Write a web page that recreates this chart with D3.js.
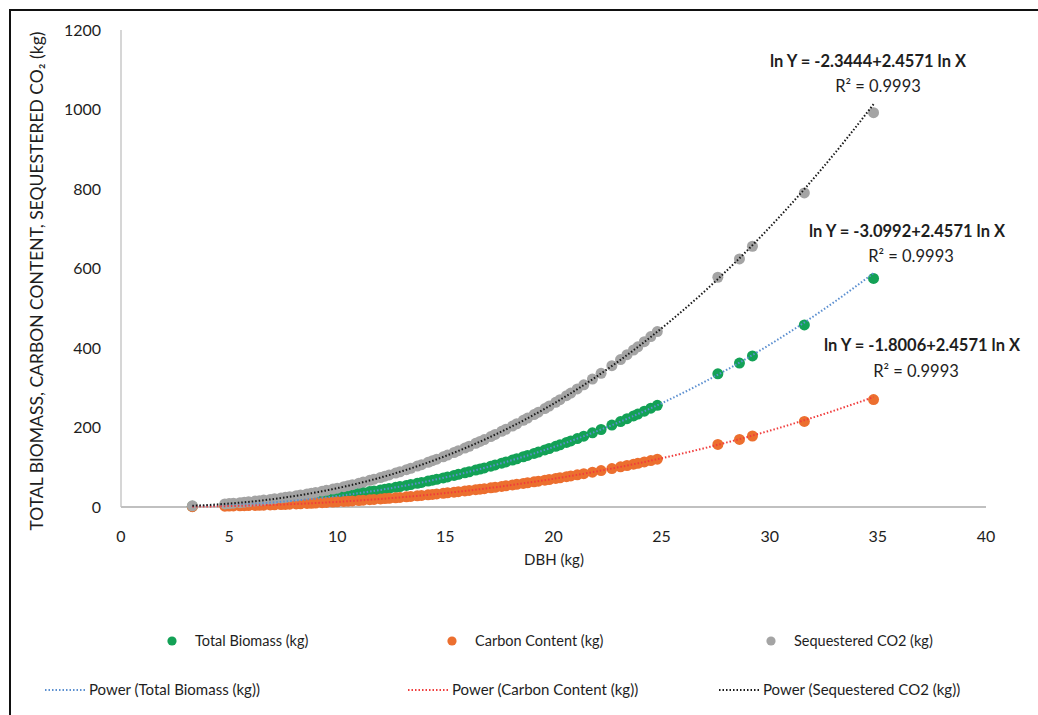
<!DOCTYPE html>
<html>
<head>
<meta charset="utf-8">
<script src="https://cdn.jsdelivr.net/npm/d3@7"></script>
<style>
  body { margin: 0; background: #fff; }
  text { font-family: Lato, "Open Sans", sans-serif; fill: #1e1e1e; }
</style>
</head>
<body>
<div id="chart"></div>
<script>
// data
var dbh = [3.3,
  4.8, 5.0, 5.2, 5.5, 5.7, 5.9, 6.2, 6.4, 6.6, 6.9, 7.1, 7.4, 7.6, 7.8, 8.1, 8.3, 8.6, 8.8, 9.0,
  9.3, 9.5, 9.8, 10.0, 10.3, 10.5, 10.7, 11.0, 11.2, 11.5, 11.7, 12.0, 12.2, 12.4, 12.7, 12.9,
  13.2, 13.4, 13.7, 13.9, 14.2, 14.4, 14.6, 14.9, 15.1, 15.4, 15.6, 15.9, 16.1, 16.4, 16.6, 16.8,
  17.1, 17.3, 17.6, 17.8, 18.1, 18.3, 18.6, 18.8, 19.1, 19.3, 19.6, 19.8, 20.1, 20.3, 20.6, 20.8,
  21.1, 21.4, 21.8, 22.2, 22.7, 23.1, 23.4, 23.7, 23.9, 24.2, 24.5, 24.8,
  27.6, 28.6, 29.2, 31.6, 34.8];
var totalBiomass = [1.8,
  4.5, 5.0, 5.6, 6.4, 7.0, 7.5, 8.6, 9.3, 10.0, 11.1, 11.9, 13.2, 14.1, 15.0, 16.4, 17.5, 19.0, 20.1, 21.2,
  23.1, 24.3, 26.2, 27.5, 29.6, 31.1, 32.5, 34.7, 36.4, 38.9, 40.5, 43.0, 44.9, 46.7, 49.5, 51.4,
  54.4, 56.5, 59.7, 61.8, 65.1, 67.5, 69.8, 73.2, 75.7, 79.5, 82.1, 85.9, 88.6, 92.8, 95.6, 98.4,
  102.7, 105.8, 110.3, 113.4, 118.0, 121.4, 126.4, 129.6, 134.7, 138.3, 143.6, 147.2, 152.7, 156.5, 162.3, 166.2,
  172.1, 178.2, 186.5, 195.0, 206.0, 215.0, 222.1, 229.0, 233.7, 241.1, 248.6, 255.9,
  335, 362, 380, 458, 575];
var carbonContent = [0.8,
  2.1, 2.4, 2.6, 3.0, 3.3, 3.5, 4.0, 4.4, 4.7, 5.2, 5.6, 6.2, 6.6, 7.1, 7.7, 8.2, 8.9, 9.4, 10.0,
  10.9, 11.4, 12.3, 12.9, 13.9, 14.6, 15.3, 16.3, 17.1, 18.3, 19.0, 20.2, 21.1, 21.9, 23.3, 24.2,
  25.6, 26.6, 28.1, 29.0, 30.6, 31.7, 32.8, 34.4, 35.6, 37.4, 38.6, 40.4, 41.6, 43.6, 44.9, 46.2,
  48.3, 49.7, 51.8, 53.3, 55.5, 57.1, 59.4, 60.9, 63.3, 65.0, 67.5, 69.2, 71.8, 73.6, 76.3, 78.1,
  80.9, 83.8, 87.7, 91.7, 96.8, 101.1, 104.4, 107.6, 109.8, 113.3, 116.8, 120.3,
  157.5, 170.1, 178.6, 215.3, 270.3];
var sequesteredCO2 = [3.1,
  7.8, 8.6, 9.7, 11.0, 12.1, 12.9, 14.8, 16.0, 17.3, 19.1, 20.5, 22.8, 24.3, 25.9, 28.3, 30.2, 32.8, 34.7, 36.6,
  39.8, 41.9, 45.2, 47.4, 51.1, 53.6, 56.1, 59.9, 62.8, 67.1, 69.9, 74.2, 77.5, 80.6, 85.4, 88.7,
  93.8, 97.5, 103.0, 106.6, 112.3, 116.4, 120.4, 126.3, 130.6, 137.1, 141.6, 148.2, 152.8, 160.1, 164.9, 169.7,
  177.2, 182.5, 190.3, 195.6, 203.6, 209.4, 218.0, 223.6, 232.4, 238.6, 247.7, 253.9, 263.4, 270.0, 280.0, 286.7,
  296.9, 307.4, 321.7, 336.4, 355.4, 370.9, 383.1, 395.0, 403.1, 415.9, 428.8, 441.4,
  578, 624, 656, 790, 992];

var seriesNames = ["Total Biomass (kg)", "Carbon Content (kg)", "Sequestered CO2 (kg)"];
var seriesColors = ["#13a156", "#ec6f2f", "#a4a4a4"];
var trendColors = ["#5b8fd0", "#f03c3c", "#1a1a1a"];
// power trendlines: ln Y = a + b ln X
var trendA = [-2.3444, -3.0992, -1.8006];
var trendB = [2.4571, 2.4571, 2.4571];
var eqLabels = ["ln Y = -2.3444+2.4571 ln X", "ln Y = -3.0992+2.4571 ln X", "ln Y = -1.8006+2.4571 ln X"];
var r2Labels = ["R\u00b2 = 0.9993", "R\u00b2 = 0.9993", "R\u00b2 = 0.9993"];
var xTicks = [0, 5, 10, 15, 20, 25, 30, 35, 40];
var yTicks = [0, 200, 400, 600, 800, 1000, 1200];

var width = 1038, height = 715;
var svg = d3.select("#chart").append("svg")
    .attr("width", width)
    .attr("height", height);

// outer frame
svg.append("rect")
    .attr("x", 10).attr("y", 10)
    .attr("width", 1050).attr("height", 730)
    .style("fill", "none").style("stroke", "#111").style("stroke-width", 2);

var x = d3.scaleLinear().domain([0, 40]).range([121, 986]);
var y = d3.scaleLinear().domain([0, 1200]).range([507, 30]);

// axes
svg.append("line")
    .attr("x1", x(0)).attr("x2", x(0)).attr("y1", y(0)).attr("y2", y(1200))
    .style("stroke", "#c8c8c8").style("stroke-width", 1.5);
svg.append("line")
    .attr("x1", x(0)).attr("x2", x(40)).attr("y1", y(0)).attr("y2", y(0))
    .style("stroke", "#c0c0c0").style("stroke-width", 2);

svg.selectAll(".ytick")
    .data(yTicks).enter()
    .append("text")
    .attr("class", "ytick")
    .attr("x", 101)
    .attr("y", (d) => y(d))
    .attr("dy", "0.35em")
    .attr("text-anchor", "end")
    .style("font-size", "16px")
    .text((d) => d);

svg.selectAll(".xtick")
    .data(xTicks).enter()
    .append("text")
    .attr("class", "xtick")
    .attr("x", (d) => x(d))
    .attr("y", 536)
    .attr("dy", "0.35em")
    .attr("text-anchor", "middle")
    .style("font-size", "16px")
    .text((d) => d);

svg.append("text")
    .attr("x", 554).attr("y", 560)
    .attr("dy", "0.35em")
    .attr("text-anchor", "middle")
    .style("font-size", "15px")
    .text("DBH (kg)");

svg.append("text")
    .attr("transform", "translate(37,281) rotate(-90)")
    .attr("text-anchor", "middle")
    .attr("dy", "0.35em")
    .style("font-size", "17.5px")
    .text("TOTAL BIOMASS, CARBON CONTENT, SEQUESTERED CO\u2082 (kg)");

// markers
var allSeries = [totalBiomass, carbonContent, sequesteredCO2];
allSeries.forEach((vals, s) => {
    svg.append("g").selectAll("circle")
        .data(vals).enter()
        .append("circle")
        .attr("cx", (d, i) => x(dbh[i]))
        .attr("cy", (d) => y(d))
        .attr("r", 5.5)
        .style("fill", seriesColors[s]);
});

// trendlines
var xs = d3.range(0, 201).map((i) => 3.3 + (34.8 - 3.3) * i / 200);
var line = d3.line().x((d) => x(d[0])).y((d) => y(d[1]));
trendA.forEach((a, s) => {
    var pts = xs.map((v) => [v, Math.exp(a + trendB[s] * Math.log(v))]);
    svg.append("path")
        .attr("d", line(pts))
        .style("fill", "none")
        .style("stroke", trendColors[s])
        .style("stroke-width", 2)
        .style("stroke-dasharray", "1.5,2");
});

// equation labels
var eqPos = [[868, 61], [907, 231], [922, 345]];
var r2Pos = [[878, 86], [911, 256], [916, 371]];
eqLabels.forEach((t, i) => {
    svg.append("text")
        .attr("x", eqPos[i][0]).attr("y", eqPos[i][1])
        .attr("dy", "0.35em")
        .attr("text-anchor", "middle")
        .style("font-size", "16.5px")
        .style("font-weight", "bold")
        .text(t);
    svg.append("text")
        .attr("x", r2Pos[i][0]).attr("y", r2Pos[i][1])
        .attr("dy", "0.35em")
        .attr("text-anchor", "middle")
        .style("font-size", "16.5px")
        .text(r2Labels[i]);
});

// legend
var legX = [172, 452, 771];
var legLineX = [45, 408, 719];
seriesNames.forEach((n, i) => {
    svg.append("circle")
        .attr("cx", legX[i]).attr("cy", 641).attr("r", 4.6)
        .style("fill", seriesColors[i]);
    svg.append("text")
        .attr("x", legX[i] + 23).attr("y", 641)
        .attr("dy", "0.35em")
        .style("font-size", "14.5px")
        .text(n);
    svg.append("line")
        .attr("x1", legLineX[i]).attr("x2", legLineX[i] + 40)
        .attr("y1", 690).attr("y2", 690)
        .style("stroke", trendColors[i])
        .style("stroke-width", 2)
        .style("stroke-dasharray", "1.5,2");
    svg.append("text")
        .attr("x", legLineX[i] + 44).attr("y", 690)
        .attr("dy", "0.35em")
        .style("font-size", "15px")
        .text("Power (" + n + ")");
});
</script>
</body>
</html>
